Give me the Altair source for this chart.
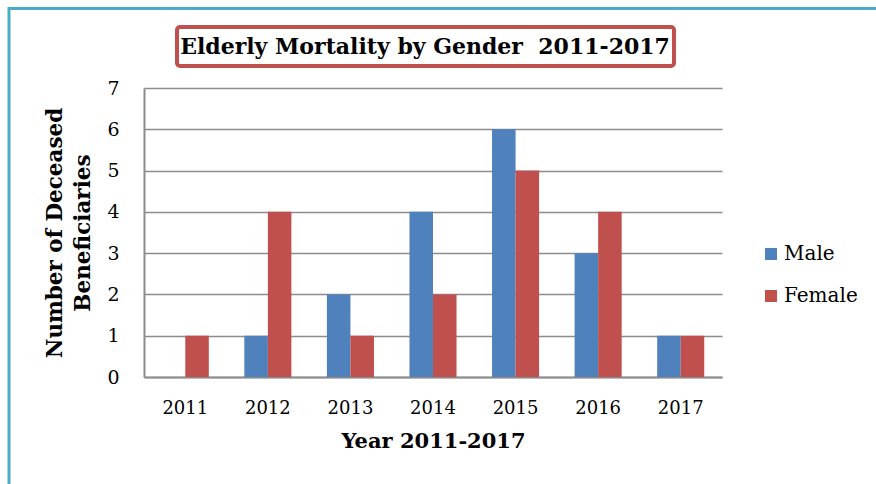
import altair as alt
import pandas as pd

years = ["2011", "2012", "2013", "2014", "2015", "2016", "2017"]
male = [0, 1, 2, 4, 6, 3, 1]
female = [1, 4, 1, 2, 5, 4, 1]
genders = ["Male", "Female"]
colors = ["#4F81BD", "#C0504D"]
y_ticks = [0, 1, 2, 3, 4, 5, 6, 7]
title_text = "Elderly Mortality by Gender\u00a0 2011-2017"
x_title = "Year 2011-2017"
y_title = ["Number of Deceased", "Beneficiaries"]

rows = []
for i, yr in enumerate(years):
    rows.append({"Year": yr, "Gender": "Male", "Count": male[i]})
    rows.append({"Year": yr, "Gender": "Female", "Count": female[i]})
df = pd.DataFrame(rows)
one = pd.DataFrame({"a": [0]})

FONT = "DejaVu Serif"
GRID = "#8c8c8c"

bars = alt.Chart(df).mark_bar().encode(
    x=alt.X("Year:N", sort=years,
            scale=alt.Scale(paddingInner=0.43, paddingOuter=0.215),
            axis=alt.Axis(title=x_title, labelAngle=0, ticks=False, labelPadding=22,
                          labelFontSize=18, titleFontSize=21, titleFontWeight="bold",
                          titlePadding=13, domainColor=GRID, domainWidth=2, grid=False)),
    xOffset=alt.XOffset("Gender:N", sort=genders,
                        scale=alt.Scale(paddingInner=0, paddingOuter=0)),
    y=alt.Y("Count:Q", scale=alt.Scale(domain=[0, 7]),
            axis=alt.Axis(values=y_ticks, title=y_title, ticks=False, labelPadding=25,
                          labelFontSize=19, titleFontSize=21.5, titleFontWeight="bold",
                          titleLineHeight=28, titlePadding=12, domainColor=GRID,
                          domainWidth=2, gridColor=GRID, gridWidth=1.5)),
    color=alt.Color("Gender:N", sort=genders,
                    scale=alt.Scale(domain=genders, range=colors),
                    legend=alt.Legend(title=None, orient="none", legendX=617, legendY=156,
                                      symbolType="square", symbolSize=144,
                                      symbolStrokeWidth=0, labelFontSize=20,
                                      rowPadding=22, labelOffset=3, labelFont=FONT,
                                      labelColor="black")),
)

box = alt.Chart(one).mark_rect(fill="white", stroke="#C0504D", strokeWidth=4,
                               cornerRadius=3).encode(
    x=alt.value(33), x2=alt.value(530), y=alt.value(-61), y2=alt.value(-22))

ttl = alt.Chart(one).mark_text(text=title_text, font=FONT, fontSize=22,
                               fontWeight="bold", baseline="middle", align="center",
                               color="black").encode(
    x=alt.value(281), y=alt.value(-41))

top_rule = alt.Chart(one).mark_rule(stroke="#4BACC6", strokeWidth=3).encode(
    x=alt.value(-136), x2=alt.value(732), y=alt.value(-79.5))
left_rule = alt.Chart(one).mark_rule(stroke="#4BACC6", strokeWidth=3).encode(
    x=alt.value(-135), y=alt.value(-81), y2=alt.value(396))

chart = alt.layer(top_rule, left_rule, bars, box, ttl).properties(
    width=578, height=289,
    autosize=alt.AutoSizeParams(type="none"),
    padding={"left": 144, "top": 88, "right": 154, "bottom": 107},
    background="white",
).configure(font=FONT).configure_view(stroke=None).configure_axis(
    labelFont=FONT, titleFont=FONT, labelColor="black", titleColor="black"
).configure_legend(labelFont=FONT, labelFontSize=20, labelColor="black"
).configure_text(font=FONT)

chart.save("out.html", embed_options={"renderer": "svg", "actions": False})
